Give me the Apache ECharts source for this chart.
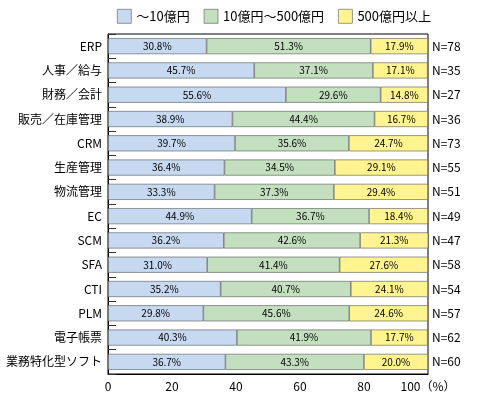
<!DOCTYPE html><html><head><meta charset="utf-8">
<script src="https://cdn.jsdelivr.net/npm/echarts@6/dist/echarts.min.js"></script>
<style>html,body{margin:0;background:#fff}#c{width:490px;height:400px}</style></head><body><div id="c"></div>
<script>
const categories=["ERP","人事／給与","財務／会計","販売／在庫管理","CRM","生産管理","物流管理","EC","SCM","SFA","CTI","PLM","電子帳票","業務特化型ソフト"];
const small=[30.8,45.7,55.6,38.9,39.7,36.4,33.3,44.9,36.2,31.0,35.2,29.8,40.3,36.7];
const mid=[51.3,37.1,29.6,44.4,35.6,34.5,37.3,36.7,42.6,41.4,40.7,45.6,41.9,43.3];
const large=[17.9,17.1,14.8,16.7,24.7,29.1,29.4,18.4,21.3,27.6,24.1,24.6,17.7,20.0];
const nLabels=["N=78","N=35","N=27","N=36","N=73","N=55","N=51","N=49","N=47","N=58","N=54","N=57","N=62","N=60"];
const names=["～10億円","10億円～500億円","500億円以上"];
const colors=["#c6d9f1","#c3dfbf","#fff48f"];
const font="'Noto Sans CJK JP', sans-serif";
const mk=(name,data,color)=>({name,type:'bar',stack:'s',data,barWidth:16,
  itemStyle:{color,borderColor:'#555',borderWidth:0.6},
  label:{show:true,formatter:p=>p.value.toFixed(1)+'%',fontSize:10,color:'#000',fontFamily:font}});
echarts.init(document.getElementById('c')).setOption({
  animation:false,
  textStyle:{fontFamily:font},
  legend:{top:4,left:112,icon:'rect',itemWidth:14,itemHeight:14,itemGap:14,textStyle:{fontSize:13,color:'#000'},
    itemStyle:{borderColor:'#555',borderWidth:0.6}},
  grid:{left:108,right:62,top:34,bottom:26,show:true,borderColor:'#000',borderWidth:1},
  xAxis:{type:'value',min:0,max:100,interval:20,splitLine:{show:false},
    axisLine:{show:true,lineStyle:{color:'#000'}},axisTick:{show:false},
    axisLabel:{color:'#000',fontSize:12,formatter:v=>v===100?'100（%）':v,margin:6}},
  yAxis:[{type:'category',data:categories,inverse:true,
    axisLine:{lineStyle:{color:'#000'}},axisTick:{show:true,inside:true,length:8,lineStyle:{color:'#333'}},
    axisLabel:{color:'#000',fontSize:12,margin:6}},
   {type:'category',data:nLabels,inverse:true,position:'right',axisLine:{show:false},axisTick:{show:false},
    axisLabel:{color:'#000',fontSize:12,margin:4}}],
  series:[mk(names[0],small,colors[0]),mk(names[1],mid,colors[1]),mk(names[2],large,colors[2])]
});
</script></body></html>
